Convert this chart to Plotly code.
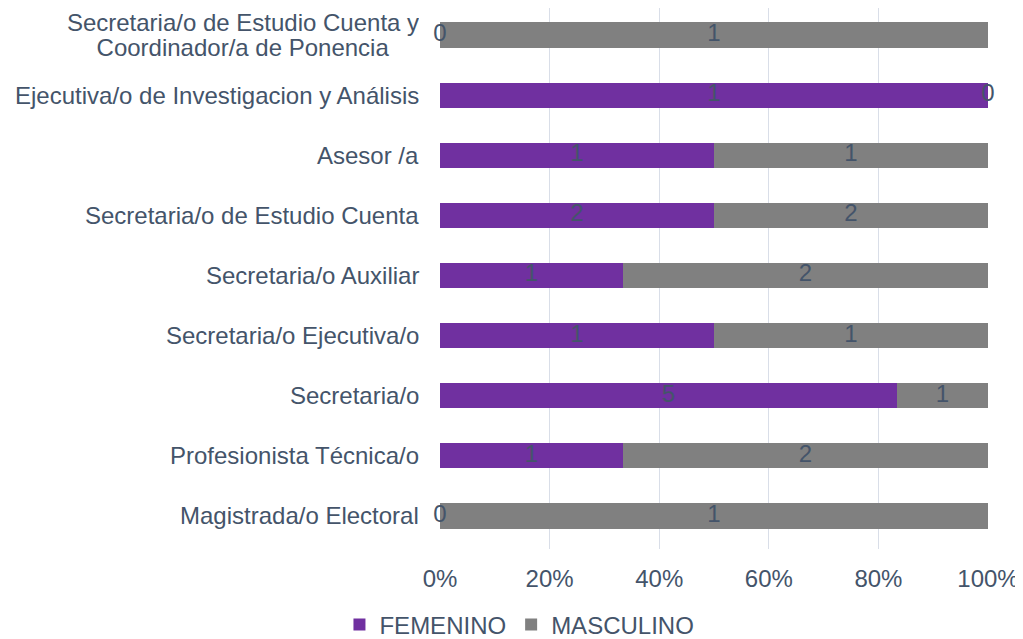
import plotly.graph_objects as go

categories = [
    "Magistrada/o Electoral",
    "Profesionista Técnica/o",
    "Secretaria/o",
    "Secretaria/o Ejecutiva/o",
    "Secretaria/o Auxiliar",
    "Secretaria/o de Estudio Cuenta",
    "Asesor /a",
    "Ejecutiva/o de Investigacion y Análisis",
    "Secretaria/o de Estudio Cuenta y\nCoordinador/a de Ponencia",
]
femenino = [0, 1, 5, 1, 1, 2, 1, 1, 0]
masculino = [1, 2, 1, 1, 2, 2, 1, 0, 1]
x_ticks = [0, 0.2, 0.4, 0.6, 0.8, 1.0]
x_tick_labels = ["0%", "20%", "40%", "60%", "80%", "100%"]

PURPLE = "#7030A0"
GRAY = "#808080"
TXT = "#44546A"
FONT = "Liberation Sans, Arial, sans-serif"
FS = 24
LINE_H = 25
MULTI_W = 352

totals = [f + m for f, m in zip(femenino, masculino)]
fem_share = [f / t for f, t in zip(femenino, totals)]
mas_share = [m / t for m, t in zip(masculino, totals)]
yidx = list(range(len(categories)))

fig = go.Figure()
fig.add_trace(go.Bar(y=yidx, x=fem_share, orientation="h", name="FEMENINO",
                     marker=dict(color=PURPLE, line=dict(width=0)), hoverinfo="skip"))
fig.add_trace(go.Bar(y=yidx, x=mas_share, orientation="h", name="MASCULINO",
                     marker=dict(color=GRAY, line=dict(width=0)), hoverinfo="skip"))

# data labels centred in each segment
fem_mid = [s / 2 for s in fem_share]
mas_mid = [f + m / 2 for f, m in zip(fem_share, mas_share)]
fig.add_trace(go.Scatter(y=yidx, x=fem_mid, mode="text", text=[str(v) for v in femenino],
                         textfont=dict(color=TXT, size=FS, family=FONT), showlegend=False,
                         hoverinfo="skip", cliponaxis=False))
fig.add_trace(go.Scatter(y=yidx, x=mas_mid, mode="text", text=[str(v) for v in masculino],
                         textfont=dict(color=TXT, size=FS, family=FONT), showlegend=False,
                         hoverinfo="skip", cliponaxis=False))

# category labels (multi-line labels are centred with tighter line spacing)
for i, c in enumerate(categories):
    lines = c.split("\n")
    n = len(lines)
    for k, ln in enumerate(lines):
        kw = dict(width=MULTI_W, align="center") if n > 1 else {}
        fig.add_annotation(x=0, xref="paper", y=i, yref="y", text=ln, showarrow=False,
                           xanchor="right", xshift=-19,
                           yshift=((n - 1) / 2 - k) * LINE_H,
                           font=dict(color=TXT, size=FS, family=FONT), **kw)

fig.update_layout(
    barmode="stack",
    bargap=0.58,
    width=1015, height=631,
    margin=dict(l=432, r=35, t=0, b=90, autoexpand=False),
    paper_bgcolor="white", plot_bgcolor="white",
    font=dict(family=FONT, color=TXT, size=FS),
    legend=dict(orientation="h", x=0.145, xanchor="center", y=-0.1405, yanchor="middle",
                font=dict(color=TXT, size=FS, family=FONT), itemwidth=30,
                traceorder="normal"),
    xaxis=dict(range=[0, 1], tickvals=x_ticks, ticktext=x_tick_labels,
               showgrid=True, gridcolor="#D9DEE8", gridwidth=1, zeroline=False,
               showline=False, ticks="", ticklabelstandoff=13,
               tickfont=dict(color=TXT, size=FS, family=FONT)),
    yaxis=dict(range=[-0.55, len(categories) - 0.55], showticklabels=False,
               showgrid=False, zeroline=False, showline=False, ticks=""),
)

fig.write_html("out.html")
